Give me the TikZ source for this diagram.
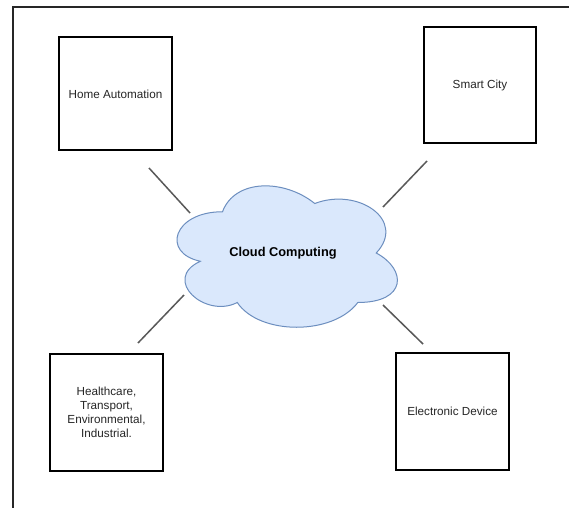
\documentclass[tikz,border=0pt]{standalone}
\usepackage{fontspec}
\setmainfont{Liberation Sans}
\begin{document}
\begin{tikzpicture}[x=1pt,y=-1pt,
  box/.style={draw=black,line width=1.1pt,fill=white,inner sep=0pt},
  lbl/.style={align=center,text=black!85,font=\fontsize{11.7}{14}\selectfont},
  link/.style={draw=black!65,line width=1.5pt}]
\useasboundingbox (0,0) rectangle (569,508);
\fill[white] (0,0) rectangle (569,508);
% page frame (top and left edges)
\draw[line width=2pt,black!85] (569,7) -- (13,7) -- (13,508);

% application boxes
\draw[box] (59,37) rectangle (172,150);
\node[lbl] (home) at (115.5,94) {Home Automation};
\draw[box] (424,27) rectangle (536,143);
\node[lbl] (city) at (480,85) {Smart City};
\draw[box] (50,354) rectangle (163,471);
\node[lbl] (health) at (106.5,412) {Healthcare,\\Transport,\\Environmental,\\Industrial.};
\draw[box] (396,353) rectangle (509,470);
\node[lbl] (elec) at (452.5,411.5) {Electronic Device};

% cloud
\begin{scope}[shift={(161,170.5)},x=246pt,y=-165pt]
\draw[fill={rgb,255:red,218;green,232;blue,252},draw={rgb,255:red,108;green,142;blue,191},line width=1pt]
  (0.25,0.25) .. controls (0.05,0.25) and (0,0.5) .. (0.16,0.55)
  .. controls (0,0.66) and (0.18,0.9) .. (0.31,0.8)
  .. controls (0.4,1) and (0.7,1) .. (0.8,0.8)
  .. controls (1,0.8) and (1,0.6) .. (0.875,0.5)
  .. controls (1,0.3) and (0.8,0.1) .. (0.625,0.2)
  .. controls (0.5,0.05) and (0.3,0.05) .. (0.25,0.25) -- cycle;
\end{scope}
\node[font=\fontsize{12.8}{15}\selectfont\bfseries] (cloud) at (283,253) {Cloud Computing};

% connectors
\coordinate (c1a) at (149,168); \coordinate (c1b) at (190,213);
\coordinate (c2a) at (427,161); \coordinate (c2b) at (383,207);
\coordinate (c3a) at (184,295); \coordinate (c3b) at (138,343);
\coordinate (c4a) at (383,305); \coordinate (c4b) at (423,344);
\draw[link] (c1a) -- (c1b);
\draw[link] (c2a) -- (c2b);
\draw[link] (c3a) -- (c3b);
\draw[link] (c4a) -- (c4b);
\end{tikzpicture}
\end{document}
